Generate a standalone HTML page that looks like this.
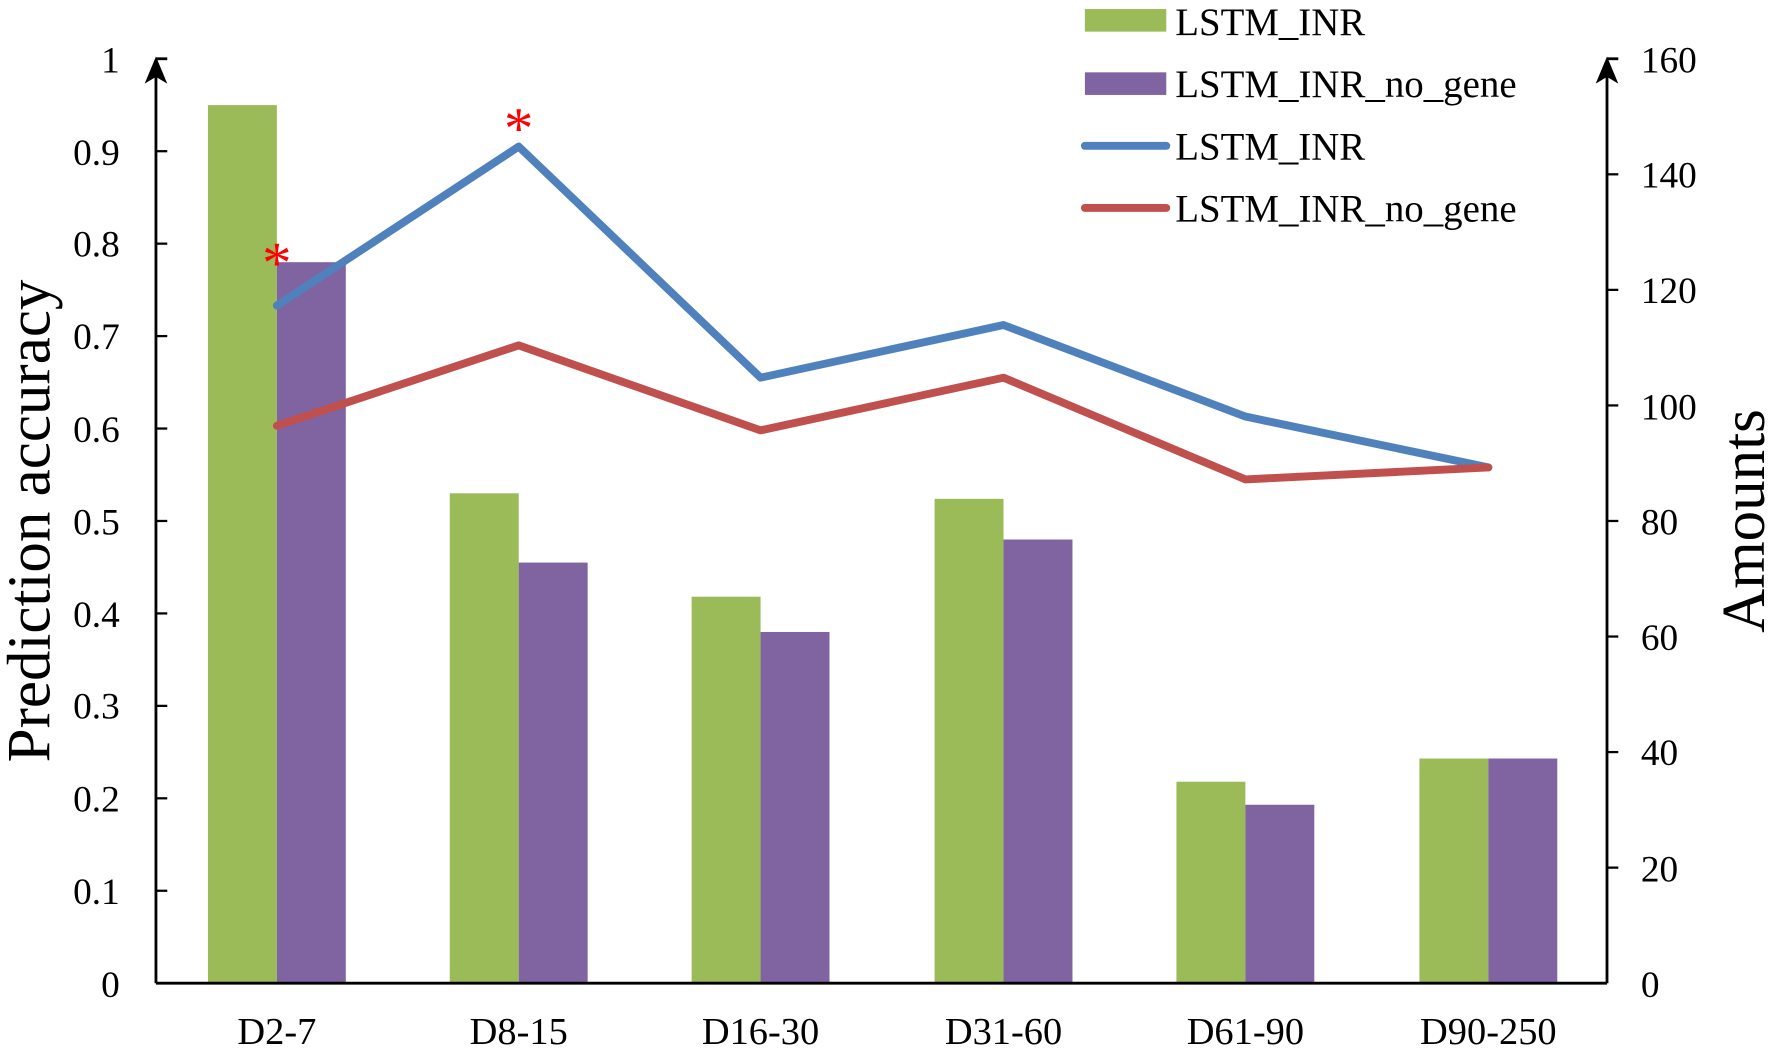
<!DOCTYPE html>
<html><head><meta charset="utf-8"><style>
html,body{margin:0;padding:0;background:#fff;}
svg{display:block;}
text{font-family:"Liberation Serif",serif;fill:#000;}
</style></head><body>
<svg width="1772" height="1051" viewBox="0 0 1568 930" preserveAspectRatio="none" xmlns="http://www.w3.org/2000/svg">
<g fill="#9BBB59">
<rect x="184" y="93" width="61" height="777"/>
<rect x="398" y="436.5" width="61" height="433.5"/>
<rect x="612" y="528" width="61" height="342"/>
<rect x="827" y="441.4" width="61" height="428.6"/>
<rect x="1041" y="691.7" width="61" height="178.3"/>
<rect x="1256" y="671.2" width="61" height="198.8"/>
</g>
<g fill="#8064A2">
<rect x="245" y="232" width="61" height="638"/>
<rect x="459" y="497.8" width="61" height="372.2"/>
<rect x="673" y="559.2" width="61" height="310.8"/>
<rect x="888" y="477.4" width="61" height="392.6"/>
<rect x="1102" y="712.1" width="61" height="157.9"/>
<rect x="1317" y="671.2" width="61" height="198.8"/>
</g>
<polyline fill="none" stroke="#4F81BD" stroke-width="7" stroke-linejoin="round" stroke-linecap="round"
 points="245,270.4 459,129.7 673,334.2 888,287.6 1102,368.6 1317,413.6"/>
<polyline fill="none" stroke="#C0504D" stroke-width="7" stroke-linejoin="round" stroke-linecap="round"
 points="245,376.7 459,305.6 673,380.8 888,334.2 1102,424.2 1317,413.6"/>
<text x="245" y="250" font-size="52" style="fill:#f00" text-anchor="middle">*</text>
<text x="459" y="131" font-size="52" style="fill:#f00" text-anchor="middle">*</text>
<g stroke="#000" stroke-width="2.5" fill="none">
<line x1="138" y1="870" x2="1422" y2="870"/>
<line x1="138" y1="870" x2="138" y2="56"/>
<line x1="1422" y1="870" x2="1422" y2="56"/>
<line x1="138" y1="52" x2="148" y2="52"/>
<line x1="1422" y1="52" x2="1432" y2="52"/>
</g>
<polygon points="138,50 128,74 138,68 148,74" fill="#000"/>
<polygon points="1422,50 1412,74 1422,68 1432,74" fill="#000"/>
<g stroke="#000" stroke-width="2">
<line x1="138" y1="788.2" x2="148" y2="788.2"/><line x1="138" y1="706.4" x2="148" y2="706.4"/>
<line x1="138" y1="624.6" x2="148" y2="624.6"/><line x1="138" y1="542.8" x2="148" y2="542.8"/>
<line x1="138" y1="461" x2="148" y2="461"/><line x1="138" y1="379.2" x2="148" y2="379.2"/>
<line x1="138" y1="297.4" x2="148" y2="297.4"/><line x1="138" y1="215.6" x2="148" y2="215.6"/>
<line x1="138" y1="133.8" x2="148" y2="133.8"/>
<line x1="1422" y1="767.75" x2="1432" y2="767.75"/><line x1="1422" y1="665.5" x2="1432" y2="665.5"/>
<line x1="1422" y1="563.25" x2="1432" y2="563.25"/><line x1="1422" y1="461" x2="1432" y2="461"/>
<line x1="1422" y1="358.75" x2="1432" y2="358.75"/><line x1="1422" y1="256.5" x2="1432" y2="256.5"/>
<line x1="1422" y1="154.25" x2="1432" y2="154.25"/>
</g>
<g font-size="33" text-anchor="end">
<text x="106" y="882">0</text><text x="106" y="800">0.1</text><text x="106" y="718">0.2</text>
<text x="106" y="636">0.3</text><text x="106" y="555">0.4</text><text x="106" y="473">0.5</text>
<text x="106" y="391">0.6</text><text x="106" y="309">0.7</text><text x="106" y="227">0.8</text>
<text x="106" y="146">0.9</text><text x="106" y="64">1</text>
</g>
<g font-size="33" text-anchor="start">
<text x="1452" y="882">0</text><text x="1452" y="780">20</text><text x="1452" y="677">40</text>
<text x="1452" y="575">60</text><text x="1452" y="473">80</text><text x="1452" y="371">100</text>
<text x="1452" y="268">120</text><text x="1452" y="166">140</text><text x="1452" y="64">160</text>
</g>
<g font-size="34" text-anchor="middle">
<text x="245" y="924">D2-7</text><text x="459" y="924">D8-15</text><text x="673" y="924">D16-30</text>
<text x="888" y="924">D31-60</text><text x="1102" y="924">D61-90</text><text x="1317" y="924">D90-250</text>
</g>
<text font-size="54" text-anchor="middle" transform="translate(44,461) rotate(-90)">Prediction accuracy</text>
<text font-size="54" text-anchor="middle" transform="translate(1561,461) rotate(-90)">Amounts</text>
<rect x="960" y="8" width="72" height="20" fill="#9BBB59"/>
<rect x="960" y="64" width="72" height="20" fill="#8064A2"/>
<line x1="960" y1="129" x2="1032" y2="129" stroke="#4F81BD" stroke-width="7" stroke-linecap="round"/>
<line x1="960" y1="184" x2="1032" y2="184" stroke="#C0504D" stroke-width="7" stroke-linecap="round"/>
<g font-size="35">
<text x="1040" y="31" textLength="168" lengthAdjust="spacingAndGlyphs">LSTM_INR</text>
<text x="1040" y="86" textLength="302" lengthAdjust="spacingAndGlyphs">LSTM_INR_no_gene</text>
<text x="1040" y="141" textLength="168" lengthAdjust="spacingAndGlyphs">LSTM_INR</text>
<text x="1040" y="196" textLength="302" lengthAdjust="spacingAndGlyphs">LSTM_INR_no_gene</text>
</g>
</svg>
</body></html>
